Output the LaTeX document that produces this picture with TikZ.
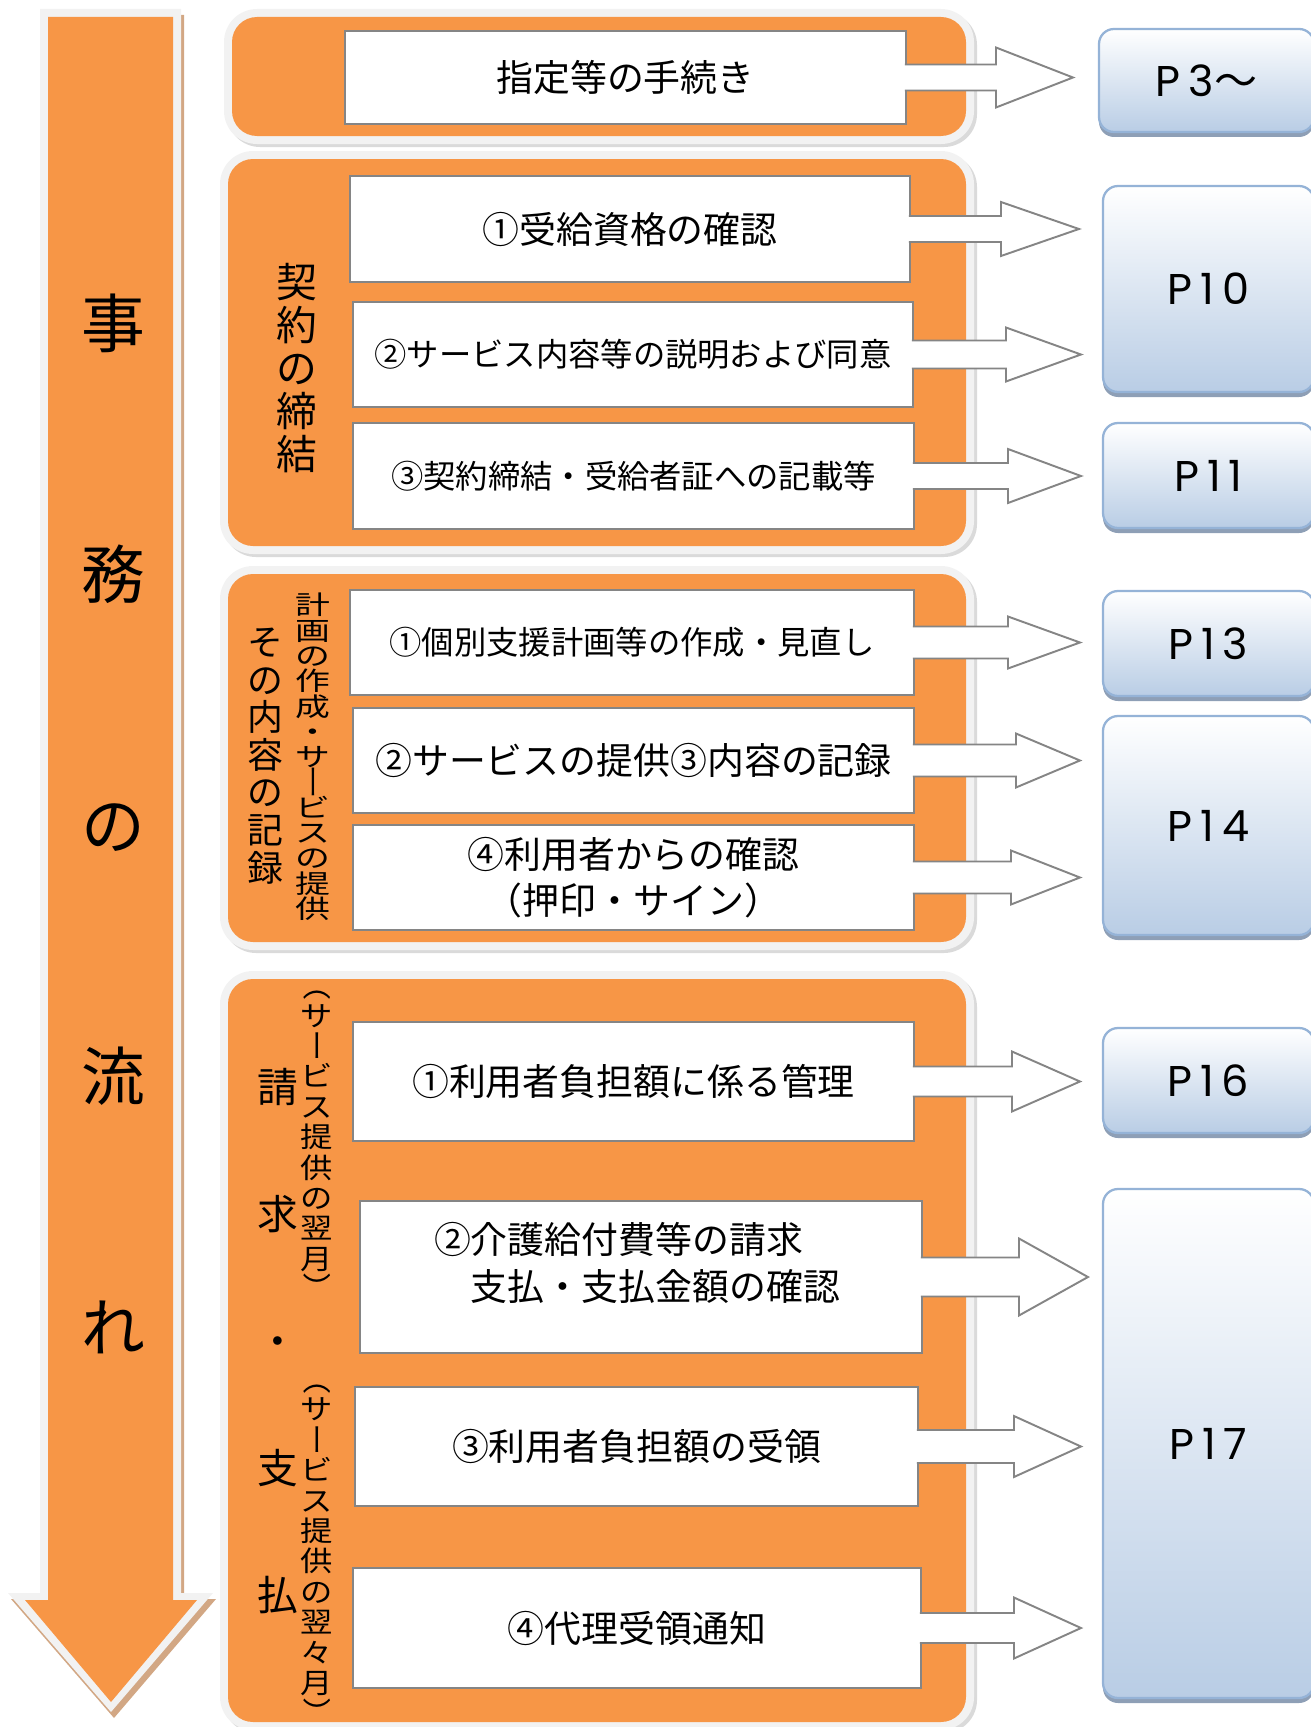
\documentclass[tikz,border=0pt]{standalone}
\usepackage{fontspec}
\usepackage{graphicx}
\usetikzlibrary{calc,shadows}
\newfontfamily\jp{Noto Sans CJK JP}
\newfontfamily\jpwide[FakeStretch=1.35]{Noto Sans CJK JP}
\newfontfamily\jpnarrow[FakeStretch=1.15]{Noto Sans CJK JP}
\newfontfamily\pagefont[LetterSpace=18]{Poppins}

\definecolor{flowor}{HTML}{F79646}
\definecolor{rimgrey}{HTML}{F2F2F2}
\definecolor{rimshade}{HTML}{DADADA}
\definecolor{flowshade}{HTML}{D2A784}
\definecolor{boxline}{HTML}{858585}
\definecolor{pline}{HTML}{95B3D7}
\definecolor{pblue}{HTML}{B9CDE5}
\definecolor{pshade}{HTML}{8E9FB6}

% glyph turned for vertical writing
\newcommand{\vchar}[1]{\rotatebox[origin=c]{-90}{\rule[-0.12em]{0pt}{1em}#1}}
\newcommand{\topage}[5]{%
  \draw[flowarr] (#1.east) ++(-2,-#2) -- ++(#4+2,0) -- ++(0,#2-#3) -- ++(#5,#3)
    -- ++(-#5,#3) -- ++(0,#2-#3) -- ++(-#4-2,0);}

\tikzset{
  boxsize/.style 2 args={minimum width=#1*0.02cm, minimum height=#2*0.02cm},
  wbox/.style={draw=boxline, line width=1.1pt, fill=white, inner sep=0pt, align=center,
    font={\jp\fontsize{21pt}{26pt}\selectfont}},
  smalltext/.style={font={\jp\fontsize{18.4pt}{24pt}\selectfont}},
  pbox/.style={draw=pline, line width=1.3pt, rounded corners=0.3cm, top color=white,
    bottom color=pblue, inner sep=0pt, general shadow={fill=pshade, shadow yshift=-0.1cm},
    font={\pagefont\fontsize{24.5pt}{28pt}\selectfont}},
  flowarr/.style={draw=boxline, line width=1.1pt, fill=white, line join=miter},
  tate/.style={inner sep=0pt, align=center}
}

\begin{document}
\begin{tikzpicture}[x=0.02cm, y=-0.02cm]
  \useasboundingbox (0,0) rectangle (1311,1727);

  % big arrow on the left
  \fill[flowshade] (43,15) -- (184,15) -- (184,1599) -- (216,1599) -- (114,1718) -- (11,1599) -- (43,1599) -- cycle;
  \fill[rimgrey] (40,9) -- (181,9) -- (181,1593) -- (213,1593) -- (111,1712) -- (8,1593) -- (40,1593) -- cycle;
  \fill[flowor] (48,17) -- (173,17) -- (173,1600) -- (197,1600) -- (111,1702) -- (25,1600) -- (48,1600) -- cycle;
  \node[tate, font={\jp\fontsize{36.3pt}{142.9pt}\selectfont\lineskiplimit=-200pt}] (flowtxt) at (113,824)
    {事\\務\\の\\流\\れ};

  % orange panels
  \foreach \xa/\ya/\xb/\yb in {232/17/966/136, 228/159/966/546, 228/574/966/942, 228/979/966/1722}{
    \fill[rimshade, rounded corners=0.66cm] (\xa-5,\ya-5) rectangle (\xb+11,\yb+11);
    \fill[rimgrey, rounded corners=0.66cm] (\xa-8,\ya-8) rectangle (\xb+8,\yb+8);
    \fill[flowor, rounded corners=0.5cm] (\xa,\ya) rectangle (\xb,\yb);
  }

  % side labels
  \node[tate, font={\jp\fontsize{23.2pt}{24.4pt}\selectfont\lineskiplimit=-50pt}] (lbkeiyaku) at (297,368)
    {契\\約\\の\\締\\結};
  \node[tate, font={\jp\fontsize{20.4pt}{21.4pt}\selectfont\lineskiplimit=-50pt}] (lbkiroku) at (265,756)
    {そ\\の\\内\\容\\の\\記\\録};
  \node[tate, font={\jpwide\fontsize{14.7pt}{14.4pt}\selectfont\lineskiplimit=-50pt}] (lbkeikaku) at (313,757)
    {計\\画\\の\\作\\成\\・\\サ\\\vchar{ー}\\ビ\\ス\\の\\提\\供};
  \node[tate, font={\jp\fontsize{23.2pt}{72.3pt}\selectfont\lineskiplimit=-50pt}] (lbseikyu) at (278,1341)
    {請\\求\\・\\支\\払};
  \node[tate, font={\jpnarrow\fontsize{16pt}{17.3pt}\selectfont\lineskiplimit=-50pt}] (lbyokugetsu) at (317,1137)
    {\vchar{（}\\サ\\\vchar{ー}\\ビ\\ス\\提\\供\\の\\翌\\月\\\vchar{）}};
  \node[tate, font={\jpnarrow\fontsize{16pt}{17.3pt}\selectfont\lineskiplimit=-50pt}] (lbyokuyoku) at (317,1546)
    {\vchar{（}\\サ\\\vchar{ー}\\ビ\\ス\\提\\供\\の\\翌\\々\\月\\\vchar{）}};

  % white boxes
  \node[wbox, boxsize={561}{93}] (tetsuzuki) at (625.5,77.5) {指定等の手続き};
  \node[wbox, boxsize={560}{106}] (jukyu) at (630,229) {①受給資格の確認};
  \node[wbox, smalltext, boxsize={560}{105}] (setsumei) at (633,354.5) {②サービス内容等の説明および同意};
  \node[wbox, smalltext, boxsize={561}{106}] (teiketsu) at (633.5,476) {③契約締結・受給者証への記載等};
  \node[wbox, smalltext, boxsize={564}{105}] (keikaku) at (632,642.5) {①個別支援計画等の作成・見直し};
  \node[wbox, boxsize={561}{105}] (teikyo) at (633.5,760.5) {②サービスの提供③内容の記録};
  \node[wbox, boxsize={561}{105}] (kakunin) at (633.5,877.5) {④利用者からの確認\\（押印・サイン）};
  \node[wbox, boxsize={561}{119}] (kanri) at (633.5,1081.5) {①利用者負担額に係る管理};
  \node[wbox, boxsize={562}{152}] (seikyu) at (641,1277) {};
  \node[align=left, inner sep=0pt, font={\jp\fontsize{21pt}{26.6pt}\selectfont}] (seikyutxt) at (637,1263)
    {②介護給付費等の請求\\　支払・支払金額の確認};
  \node[wbox, boxsize={563}{119}] (juryo) at (636.5,1446.5) {③利用者負担額の受領};
  \node[wbox, boxsize={568}{120}] (tsuchi) at (637,1628) {④代理受領通知};

  % page boxes
  \node[pbox, boxsize={215}{103}] (p3) at (1206.5,80.5) {P3{\jp ～}};
  \node[pbox, boxsize={211}{206}] (p10) at (1208.5,289) {P10};
  \node[pbox, boxsize={211}{105}] (p11) at (1208.5,475.5) {P11};
  \node[pbox, boxsize={211}{105}] (p13) at (1208.5,643.5) {P13};
  \node[pbox, boxsize={211}{219}] (p14) at (1208.5,825.5) {P14};
  \node[pbox, boxsize={211}{105}] (p16) at (1208.5,1080.5) {P16};
  \node[pbox, boxsize={211}{509}] (p17) at (1208.5,1443.5) {P17};

  % block arrows
  \topage{tetsuzuki}{13}{30}{89}{77}
  \topage{jukyu}{13}{27}{90}{78}
  \topage{setsumei}{14}{27}{92}{75}
  \topage{teiketsu}{13}{27}{93}{73}
  \topage{keikaku}{16}{26}{93}{72}
  \topage{teikyo}{16}{27}{101}{64}
  \topage{kakunin}{16}{27}{96}{69}
  \topage{kanri}{15}{30}{97}{68}
  \topage{seikyu}{19.5}{38.5}{96}{69}
  \topage{juryo}{16.5}{30.5}{95}{67}
  \topage{tsuchi}{15}{30.5}{92}{67}
\end{tikzpicture}
\end{document}
